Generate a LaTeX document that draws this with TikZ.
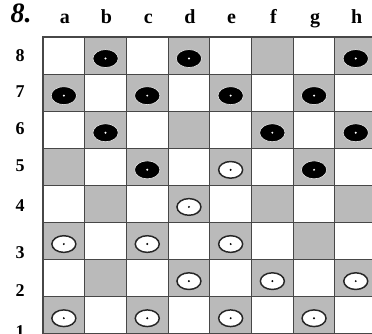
\documentclass[tikz,border=0pt]{standalone}
\usepackage{fontspec}
\setmainfont{Liberation Serif}
\usetikzlibrary{shapes.geometric}
\begin{document}
\begin{tikzpicture}[
  x=0.75pt,y=-0.75pt,
  light/.style={draw=black!72,line width=0.8pt,fill=white},
  dark/.style={light,fill=black!27},
  blk/.style={ellipse,draw=black!12,fill=black,line width=0.5pt,
    minimum width=19pt,minimum height=13.5pt,inner sep=0pt},
  wht/.style={ellipse,draw=black!85,fill=white,line width=1.1pt,
    minimum width=18pt,minimum height=12.5pt,inner sep=0pt},
  collbl/.style={font=\bfseries\fontsize{15}{15}\selectfont,anchor=base},
  rowlbl/.style={font=\bfseries\fontsize{13.5}{13.5}\selectfont},
  numlbl/.style={font=\bfseries\itshape\fontsize{21}{21}\selectfont,anchor=base}
]
  \clip (0,0) rectangle (372,334);
  \fill[white] (0,0) rectangle (372,334);

  % board
  \foreach \i in {1,...,8}
    \foreach \r in {1,...,8}{
      \pgfmathtruncatemacro\s{mod(\i+\r,2)}
      \ifnum\s=0 \def\st{dark}\else\def\st{light}\fi
      \draw[\st] ({43+41.7*(\i-1)},{37+37.1*(8-\r)}) rectangle ++(41.7,37.1);
    }

  % labels
  \node[numlbl] (num) at (21,23) {8.};
  \foreach \c [count=\i] in {a,b,c,d,e,f,g,h}
    \node[collbl] (col-\c) at ({22.15+41.7*\i+1},24) {\c};
  \foreach \r/\y in {8/56,7/92,6/129,5/166,4/206,3/253,2/291,1/332}
    \node[rowlbl] (row-\r) at (20,\y) {\r};

  % black pieces
  \foreach \c/\i/\r in {b/2/8,d/4/8,h/8/8,a/1/7,c/3/7,e/5/7,g/7/7,
                        b/2/6,f/6/6,h/8/6,c/3/5,g/7/5}{
    \node[blk] (\c\r) at ({22.15+41.7*\i},{40+37.1*(8.5-\r)}) {};
    \fill[white] (\c\r.center) circle (1.1);
  }

  % white pieces
  \foreach \c/\i/\r in {e/5/5,d/4/4,a/1/3,c/3/3,e/5/3,d/4/2,f/6/2,h/8/2,
                        a/1/1,c/3/1,e/5/1,g/7/1}{
    \node[wht] (\c\r) at ({22.15+41.7*\i},{40+37.1*(8.5-\r)}) {};
    \fill[black] (\c\r.center) circle (1.1);
  }
\end{tikzpicture}
\end{document}
